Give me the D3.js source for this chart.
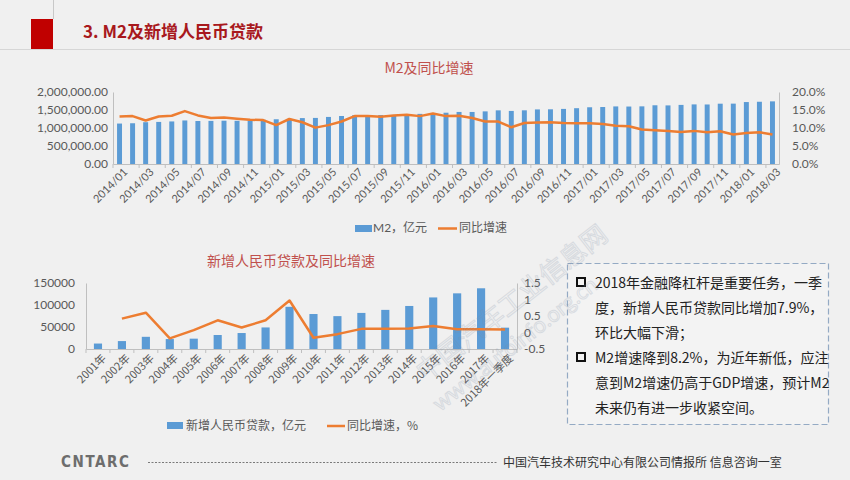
<!DOCTYPE html>
<html><head><meta charset="utf-8">
<script src="https://cdn.jsdelivr.net/npm/d3@7"></script>
<style>
body{margin:0;background:#f0f0f0;}
svg{display:block;}
</style></head><body>
<svg id="c" width="850" height="480"></svg>
<script>
// ---------- DATA ----------
const months = ["2014/01","2014/02","2014/03","2014/04","2014/05","2014/06","2014/07","2014/08","2014/09","2014/10","2014/11","2014/12",
"2015/01","2015/02","2015/03","2015/04","2015/05","2015/06","2015/07","2015/08","2015/09","2015/10","2015/11","2015/12",
"2016/01","2016/02","2016/03","2016/04","2016/05","2016/06","2016/07","2016/08","2016/09","2016/10","2016/11","2016/12",
"2017/01","2017/02","2017/03","2017/04","2017/05","2017/06","2017/07","2017/08","2017/09","2017/10","2017/11","2017/12",
"2018/01","2018/02","2018/03"];
const m2Values = [1123500,1131800,1160700,1168800,1182300,1209600,1194100,1197200,1202800,1199900,1208900,1228400,
1242700,1253400,1275300,1280100,1307400,1333400,1354300,1356900,1359800,1362400,1374900,1392300,
1416300,1424600,1446200,1445400,1461700,1490500,1474100,1491400,1516400,1519500,1530400,1550100,
1575900,1582900,1599600,1596300,1601400,1631300,1627700,1641500,1655700,1653400,1675100,1676800,
1720800,1729200,1739900];
const m2Growth = [13.2,13.3,12.1,13.2,13.4,14.7,13.5,12.8,12.9,12.6,12.3,12.2,
10.8,12.5,11.6,10.1,10.8,11.8,13.3,13.3,13.1,13.5,13.7,13.3,
14.0,13.3,13.4,12.8,11.8,11.8,10.2,11.4,11.5,11.6,11.4,11.3,
11.3,11.1,10.6,10.5,9.6,9.4,9.2,8.9,9.2,8.8,9.1,8.2,
8.6,8.8,8.2];
const m2LeftTicks = [0,500000,1000000,1500000,2000000];
const m2RightTicks = [0,5,10,15,20];

const loanYears = ["2001年","2002年","2003年","2004年","2005年","2006年","2007年","2008年","2009年","2010年","2011年","2012年","2013年","2014年","2015年","2016年","2017年","2018年一季度"];
const loanValues = [12400,18000,27700,22600,23500,31800,36300,49000,95900,79500,74700,82000,88900,97800,117200,126500,138000,48500];
const loanGrowth = [null,0.42,0.60,-0.18,0.07,0.37,0.15,0.37,0.97,-0.16,-0.05,0.11,0.11,0.12,0.20,0.10,0.10,0.09];
const loanLeftTicks = [0,50000,100000,150000];
const loanRightTicks = [-0.5,0,0.5,1,1.5];

const bullets = [
  ["2018年金融降杠杆是重要任务，一季","度，新增人民币贷款同比增加7.9%，","环比大幅下滑；"],
  ["M2增速降到8.2%，为近年新低，应注","意到M2增速仍高于GDP增速，预计M2","未来仍有进一步收紧空间。"]
];

// ---------- STYLE ----------
const BLUE = "#5b9bd5", ORANGE = "#ed7d31", AXIS = "#bfbfbf", LABEL = "#595959";
const FONT = "Lato, 'Noto Sans CJK SC', sans-serif";
const CJK = "'Noto Sans CJK SC', sans-serif";

const svg = d3.select("#c");

// ---------- HEADER ----------
svg.append("line").attr("x1",53.5).attr("x2",53.5).attr("y1",0).attr("y2",19).attr("stroke","#c8c8c8");
svg.append("rect").attr("x",31).attr("y",19).attr("width",22).attr("height",30).attr("fill","#c00000");
svg.append("line").attr("x1",0).attr("x2",850).attr("y1",49.5).attr("y2",49.5).attr("stroke","#d6d6d6");
svg.append("text").attr("x",83).attr("y",38).attr("fill","#a8191d").attr("font-family",CJK)
  .attr("font-weight","bold").attr("font-size",17).text("3. M2及新增人民币贷款");

// ---------- TOP CHART ----------
{
  const L=113, R=779, T=92, B=164;
  const x = d3.scaleBand().domain(months).range([L,R]).paddingInner(0.62).paddingOuter(0.31);
  const xb = d3.scaleBand().domain(months).range([L,R]);
  const yl = d3.scaleLinear().domain([0,2000000]).range([B,T]);
  const yr = d3.scaleLinear().domain([0,20]).range([B,T]);
  const g = svg.append("g");
  g.append("text").attr("x",429).attr("y",73).attr("text-anchor","middle").attr("fill","#c0504d")
    .attr("font-family",CJK).attr("font-size",14).text("M2及同比增速");
  g.selectAll("rect.b").data(months).join("rect").attr("class","b")
    .attr("x",d=>x(d)).attr("width",x.bandwidth())
    .attr("y",(d,i)=>yl(m2Values[i])).attr("height",(d,i)=>B-yl(m2Values[i])).attr("fill",BLUE);
  const line = d3.line().x((d,i)=>xb(months[i])+xb.bandwidth()/2).y(d=>yr(d));
  g.append("path").attr("d",line(m2Growth)).attr("fill","none").attr("stroke",ORANGE)
    .attr("stroke-width",2.5).attr("stroke-linejoin","round");
  // axes
  const ax = g.append("g").attr("transform",`translate(0,${B})`)
    .call(d3.axisBottom(xb).tickSize(0).tickFormat((d,i)=> i%2===0 ? d : ""));
  ax.select(".domain").attr("stroke",AXIS);
  ax.selectAll("text").attr("font-family",FONT).attr("font-size",11).attr("fill",LABEL)
    .attr("text-anchor","end").attr("transform","translate(4,4) rotate(-45)").attr("dy","0.35em").attr("dx","0");
  // tick marks every other band boundary
  g.selectAll("line.tk").data(d3.range(0,months.length+1,2)).join("line").attr("class","tk")
    .attr("x1",i=>L+i*xb.bandwidth()).attr("x2",i=>L+i*xb.bandwidth()).attr("y1",B).attr("y2",B+4).attr("stroke",AXIS);
  const al = g.append("g").attr("transform",`translate(${L},0)`)
    .call(d3.axisLeft(yl).tickValues(m2LeftTicks).tickSize(0).tickPadding(5).tickFormat(d3.format(",.2f")));
  al.select(".domain").attr("stroke",AXIS);
  al.selectAll("text").attr("font-family",FONT).attr("font-size",12).attr("fill",LABEL);
  const ar = g.append("g").attr("transform",`translate(${R},0)`)
    .call(d3.axisRight(yr).tickValues(m2RightTicks).tickSize(0).tickPadding(13).tickFormat(d=>d3.format(".1f")(d)+"%"));
  ar.select(".domain").attr("stroke",AXIS);
  ar.selectAll("text").attr("font-family",FONT).attr("font-size",12).attr("fill",LABEL);
  // legend
  g.append("rect").attr("x",355).attr("y",225).attr("width",17).attr("height",7).attr("fill",BLUE);
  g.append("text").attr("x",373).attr("y",232).attr("font-family",FONT).attr("font-size",12).attr("fill",LABEL).text("M2，亿元");
  g.append("line").attr("x1",438).attr("x2",457).attr("y1",228.5).attr("y2",228.5).attr("stroke",ORANGE).attr("stroke-width",2.5);
  g.append("text").attr("x",459).attr("y",232).attr("font-family",CJK).attr("font-size",12).attr("fill",LABEL).text("同比增速");
}

// ---------- BOTTOM CHART ----------
{
  const L=86, R=517, T=283, B=349;
  const xb = d3.scaleBand().domain(loanYears).range([L,R]);
  const x = d3.scaleBand().domain(loanYears).range([L,R]).paddingInner(0.66).paddingOuter(0.33);
  const yl = d3.scaleLinear().domain([0,150000]).range([B,T]);
  const yr = d3.scaleLinear().domain([-0.5,1.5]).range([B,T]);
  const g = svg.append("g");
  g.append("text").attr("x",291).attr("y",266).attr("text-anchor","middle").attr("fill","#c0504d")
    .attr("font-family",CJK).attr("font-size",14).text("新增人民币贷款及同比增速");
  g.selectAll("rect.b").data(loanYears).join("rect").attr("class","b")
    .attr("x",d=>x(d)).attr("width",x.bandwidth())
    .attr("y",(d,i)=>yl(loanValues[i])).attr("height",(d,i)=>B-yl(loanValues[i])).attr("fill",BLUE);
  const line = d3.line().defined(d=>d!==null).x((d,i)=>xb(loanYears[i])+xb.bandwidth()/2).y(d=>yr(d));
  g.append("path").attr("d",line(loanGrowth)).attr("fill","none").attr("stroke",ORANGE)
    .attr("stroke-width",2.5).attr("stroke-linejoin","round");
  const ax = g.append("g").attr("transform",`translate(0,${B})`)
    .call(d3.axisBottom(xb).tickSize(0));
  ax.select(".domain").attr("stroke",AXIS);
  ax.selectAll("text").attr("font-family",CJK).attr("font-size",11).attr("fill",LABEL)
    .attr("text-anchor","end").attr("transform","translate(4,5) rotate(-45)").attr("dy","0.35em");
  g.selectAll("line.tk").data(d3.range(0,loanYears.length+1)).join("line").attr("class","tk")
    .attr("x1",i=>L+i*xb.bandwidth()).attr("x2",i=>L+i*xb.bandwidth()).attr("y1",B).attr("y2",B+4).attr("stroke",AXIS);
  const al = g.append("g").attr("transform",`translate(${L},0)`)
    .call(d3.axisLeft(yl).tickValues(loanLeftTicks).tickSize(0).tickPadding(11).tickFormat(d3.format("d")));
  al.select(".domain").attr("stroke",AXIS);
  al.selectAll("text").attr("font-family",FONT).attr("font-size",12).attr("fill",LABEL);
  const ar = g.append("g").attr("transform",`translate(${R},0)`)
    .call(d3.axisRight(yr).tickValues(loanRightTicks).tickSize(0).tickPadding(7).tickFormat(d=>String(d)));
  ar.select(".domain").attr("stroke",AXIS);
  ar.selectAll("text").attr("font-family",FONT).attr("font-size",12).attr("fill",LABEL);
  g.append("rect").attr("x",167).attr("y",422).attr("width",16).attr("height",7).attr("fill",BLUE);
  g.append("text").attr("x",186).attr("y",430).attr("font-family",CJK).attr("font-size",12).attr("fill",LABEL).text("新增人民币贷款，亿元");
  g.append("line").attr("x1",327).attr("x2",345).attr("y1",426).attr("y2",426).attr("stroke",ORANGE).attr("stroke-width",2.5);
  g.append("text").attr("x",347).attr("y",430).attr("font-family",CJK).attr("font-size",12).attr("fill",LABEL).text("同比增速，%");
}

// ---------- TEXT BOX ----------
{
  const g = svg.append("g");
  g.append("rect").attr("x",567.5).attr("y",263.5).attr("width",261).attr("height",161)
    .attr("fill","#f3f3f3").attr("stroke","#94aac4").attr("stroke-width",1.2).attr("stroke-dasharray","6,3");
  let y0 = 288;
  bullets.forEach((lines,bi)=>{
    const yb = y0 + bi*75;
    g.append("rect").attr("x",577).attr("y",yb-10).attr("width",8).attr("height",8)
      .attr("fill","none").attr("stroke","#111").attr("stroke-width",2);
    lines.forEach((t,li)=>{
      g.append("text").attr("x",595).attr("y",yb+li*25).attr("font-family",CJK).attr("font-size",14)
        .attr("fill","#222").text(t);
    });
  });
}

// ---------- WATERMARK ----------
{
  const g = svg.append("g").attr("opacity",0.22);
  g.append("text").attr("transform","translate(425,382) rotate(-38)").attr("font-family",CJK).attr("font-size",26)
    .attr("fill","none").attr("stroke","#7f8fa6").attr("stroke-width",1).text("中国汽车工业信息网");
  g.append("text").attr("transform","translate(440,412) rotate(-38)").attr("font-family",FONT).attr("font-size",22)
    .attr("fill","none").attr("stroke","#7f8fa6").attr("stroke-width",1).text("www.autoinfo.org.cn");
}

// ---------- FOOTER ----------
{
  const g = svg.append("g");
  g.append("text").attr("x",61).attr("y",467).attr("font-family","'DejaVu Sans Condensed', sans-serif").attr("font-weight","bold")
    .attr("font-size",15).attr("fill","#6d6d6d").attr("textLength",68).text("CNTARC");
  g.append("line").attr("x1",148).attr("x2",497).attr("y1",462.5).attr("y2",462.5).attr("stroke","#7a7a7a").attr("stroke-dasharray","2,1.5");
  g.append("text").attr("x",503).attr("y",467).attr("font-family",CJK).attr("font-size",12).attr("fill","#333")
    .text("中国汽车技术研究中心有限公司情报所  信息咨询一室");
}
</script>
</body></html>
